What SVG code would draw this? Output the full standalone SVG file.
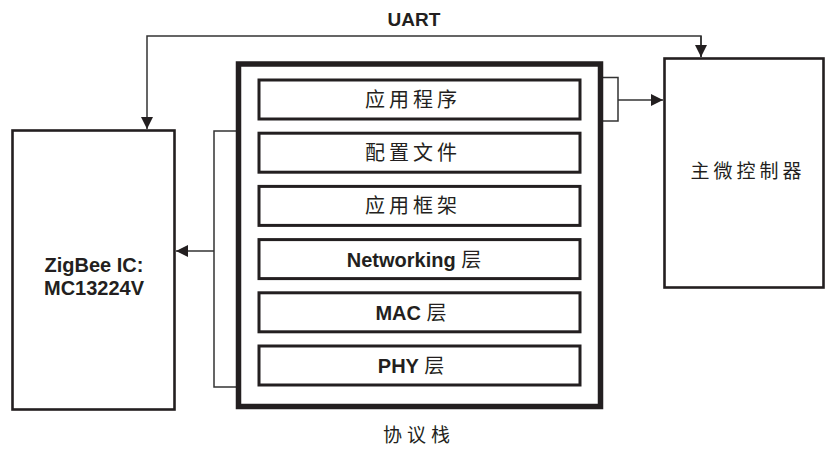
<svg xmlns="http://www.w3.org/2000/svg" width="828" height="450" viewBox="0 0 828 450">
<style>
.box{fill:none;stroke:#231f20;stroke-width:2.6}
.layer{fill:#fff;stroke:#231f20;stroke-width:3}
.stack{fill:#fff;stroke:#231f20;stroke-width:5.5}
.conn{fill:none;stroke:#333;stroke-width:1.5}
.lat{font-family:"Liberation Sans",Arial,sans-serif;font-weight:bold;fill:#231f20;text-anchor:middle}
.cjk{font-family:"Noto Sans CJK SC","Liberation Sans",sans-serif;fill:#231f20;text-anchor:middle}
.cj{font-family:"Noto Sans CJK SC",sans-serif;font-weight:normal}
</style>
<defs>
<marker id="arr" markerUnits="userSpaceOnUse" markerWidth="12" markerHeight="12" viewBox="0 0 12 12" refX="12" refY="6" orient="auto">
<path d="M0,0 L12,6 L0,12 Z" fill="#231f20"/>
</marker>
</defs>
<rect width="828" height="450" fill="#fff"/>
<g id="connectors">
<path class="conn" d="M701,57 V36 H147 V129" marker-end="url(#arr)"/>
<path class="conn" d="M701,36 V57" marker-end="url(#arr)"/>
<path class="conn" d="M237,131 H214 V387 H237"/>
<path class="conn" d="M214,251 H176" marker-end="url(#arr)"/>
<path class="conn" d="M602,77.5 H618 V121 H602"/>
<path class="conn" d="M618,100 H663" marker-end="url(#arr)"/>
</g>
<g id="uart-label"><text class="lat" x="414" y="26" font-size="19">UART</text></g>
<g id="zigbee">
<rect class="box" x="12.5" y="130.5" width="162" height="279"/>
<text class="lat" x="94" y="272" font-size="20">ZigBee IC:</text>
<text class="lat" x="94" y="295" font-size="20">MC13224V</text>
</g>
<g id="mcu">
<rect class="box" x="664.5" y="58.5" width="159" height="229"/>
<text class="cjk" x="748" y="178" font-size="19" letter-spacing="4">主微控制器</text>
</g>
<g id="stack">
<rect class="stack" x="238.5" y="64" width="362" height="342.5"/>
</g>
<g id="layer-app">
<rect class="layer" x="259" y="80" width="321" height="39"/>
<text class="cjk" x="413" y="107" font-size="20" letter-spacing="4">应用程序</text>
</g>
<g id="layer-profile">
<rect class="layer" x="259" y="133.2" width="321" height="39"/>
<text class="cjk" x="413" y="160.2" font-size="20" letter-spacing="4">配置文件</text>
</g>
<g id="layer-framework">
<rect class="layer" x="259" y="186.4" width="321" height="39"/>
<text class="cjk" x="413" y="213.4" font-size="20" letter-spacing="4">应用框架</text>
</g>
<g id="layer-nwk">
<rect class="layer" x="259" y="239.6" width="321" height="39"/>
<text class="lat" x="414" y="266.6" font-size="20">Networking <tspan class="cj">层</tspan></text>
</g>
<g id="layer-mac">
<rect class="layer" x="259" y="292.8" width="321" height="39"/>
<text class="lat" x="411" y="319.8" font-size="20">MAC <tspan class="cj">层</tspan></text>
</g>
<g id="layer-phy">
<rect class="layer" x="259" y="346" width="321" height="39"/>
<text class="lat" x="411" y="373" font-size="20">PHY <tspan class="cj">层</tspan></text>
</g>
<g id="stack-label"><text class="cjk" x="419" y="442" font-size="19" letter-spacing="5">协议栈</text></g>
</svg>
